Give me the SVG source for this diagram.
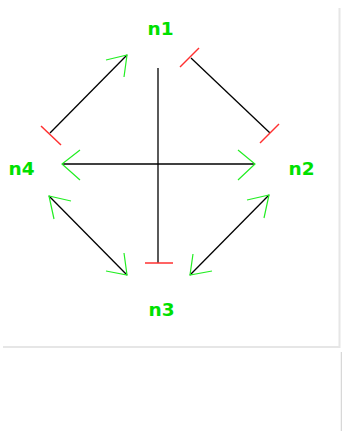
<svg xmlns="http://www.w3.org/2000/svg" width="342" height="431" viewBox="0 0 342 431">
<style>
.lbl{font-family:"DejaVu Sans",Verdana,sans-serif;font-size:18.5px;font-weight:bold;fill:#00e000;text-anchor:middle}
.edge{stroke:#000;stroke-width:1.3;fill:none}
.head{stroke:#22ee22;stroke-width:1.2;fill:none}
.tee{stroke:#ff3030;stroke-width:1.5;fill:none}
.frame{stroke:#e6e6e6;stroke-width:2;fill:none}
</style>
<rect width="342" height="431" fill="#fff"/>
<polyline class="frame" points="339.5,8 339.5,347 3,347"/>
<line x1="341.5" y1="352" x2="341.5" y2="431" stroke="#d8d8d8" stroke-width="1.5"/>
<g id="connectors">
  <g id="e-n1-n3">
    <line class="edge" x1="158" y1="68" x2="158" y2="263"/>
    <line class="tee" x1="145" y1="263" x2="173" y2="263"/>
  </g>
  <g id="e-n4-n2">
    <line class="edge" x1="62" y1="164" x2="255" y2="164"/>
    <polyline class="head" points="80,150 62,164 80,180"/>
    <polyline class="head" points="238,150 255,164 238,180"/>
  </g>
  <g id="e-n4-n1">
    <line class="edge" x1="50" y1="133" x2="127" y2="55"/>
    <polyline class="head" points="106,60 127,55 124,77"/>
    <line class="tee" x1="41" y1="126" x2="61" y2="145"/>
  </g>
  <g id="e-n1-n2">
    <line class="edge" x1="191" y1="58" x2="270" y2="133"/>
    <line class="tee" x1="180" y1="67" x2="199" y2="48"/>
    <line class="tee" x1="260" y1="143" x2="279" y2="124"/>
  </g>
  <g id="e-n4-n3">
    <line class="edge" x1="49" y1="196" x2="127" y2="275"/>
    <polyline class="head" points="71,201 49,196 54,219"/>
    <polyline class="head" points="124,253 127,275 106,271"/>
  </g>
  <g id="e-n2-n3">
    <line class="edge" x1="269" y1="195" x2="190" y2="275"/>
    <polyline class="head" points="247,200 269,195 264,218"/>
    <polyline class="head" points="193,254 190,275 212,271"/>
  </g>
</g>
<g id="n1"><text class="lbl" x="160.5" y="35">n1</text></g>
<g id="n2"><text class="lbl" x="301.5" y="175">n2</text></g>
<g id="n3"><text class="lbl" x="161.5" y="316">n3</text></g>
<g id="n4"><text class="lbl" x="21.5" y="175">n4</text></g>
</svg>
